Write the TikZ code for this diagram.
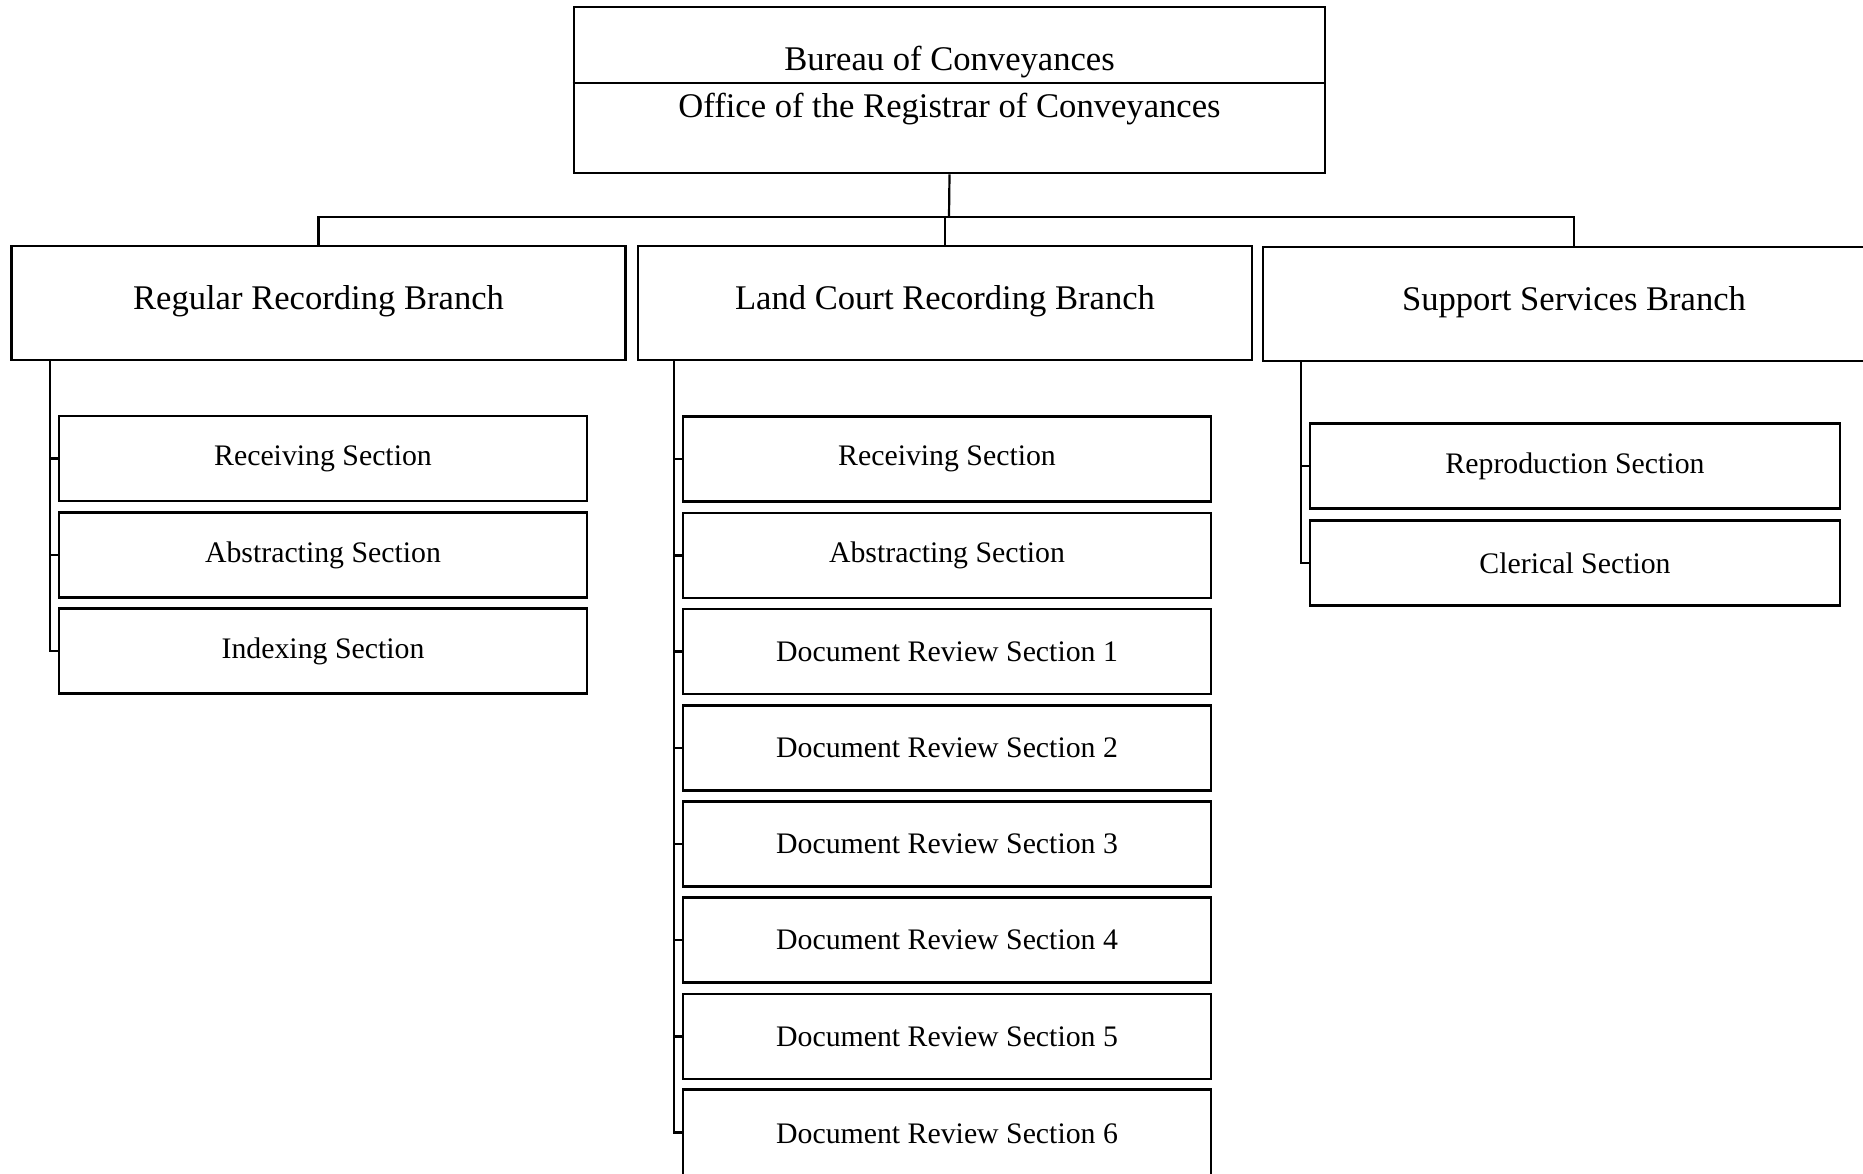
\documentclass[tikz,border=0pt]{standalone}
\usepackage{fontspec}
\setmainfont{Liberation Serif}
\begin{document}
\begin{tikzpicture}[x=0.5pt,y=-0.5pt,
  boxline/.style={draw=black, line width=1.3pt, rectangle, inner sep=0pt},
  topbox/.style={boxline, minimum width=375.5pt, minimum height=83pt},
  branch/.style={boxline, minimum width=307pt, minimum height=57pt, font=\fontsize{17.3pt}{20pt}\selectfont},
  sect/.style={boxline, minimum width=264pt, minimum height=42.5pt, font=\fontsize{14.9pt}{18pt}\selectfont},
  conn/.style={draw=black, line width=1.1pt},
  toptext/.style={inner sep=0pt, font=\fontsize{17.3pt}{20pt}\selectfont}
]
\useasboundingbox (0,0) rectangle (1863,1173);
\clip (0,0) rectangle (1863,1173);
\fill[white] (0,0) rectangle (1863,1173);

% top box
\node[topbox] (top) at (949.5,90) {};
\draw[line width=1.3pt] (top.west |- 0,83) -- (top.east |- 0,83);
\node[toptext] (t1) at (949.5,62.5) {Bureau of Conveyances};
\node[toptext] (t2) at (949.5,109.5) {Office of the Registrar of Conveyances};

% branches
\node[branch] (rrb) at (318.5,303) {\raisebox{5.3pt}{Regular Recording Branch}};
\node[branch] (lcb) at (945,303) {\raisebox{5.3pt}{Land Court Recording Branch}};
\node[branch, minimum width=311pt] (ssb) at (1574,304) {\raisebox{5.3pt}{Support Services Branch}};

\coordinate (bus) at (949,217);
\draw[conn] (top.south) -- (bus);
\draw[conn] (rrb.north) -- (rrb.north |- bus) -- (ssb.north |- bus) -- (ssb.north);
\draw[conn] (lcb.north) -- (lcb.north |- bus);

% Regular sections
\node[sect] (r1) at (323,458.5) {\raisebox{-1.8pt}{Receiving Section}};
\node[sect] (r2) at (323,555) {\raisebox{-1.8pt}{Abstracting Section}};
\node[sect] (r3) at (323,651) {\raisebox{-1.8pt}{Indexing Section}};
\coordinate (rs) at (50,360);
\draw[conn] (rs) |- (r3.west);
\foreach \n in {r1,r2} \draw[conn] (rs |- \n.west) -- (\n.west);

% Land court sections
\node[sect] (l1) at (947,459) {\raisebox{-1.8pt}{Receiving Section}};
\node[sect] (l2) at (947,555.5) {\raisebox{-1.8pt}{Abstracting Section}};
\node[sect] (l3) at (947,651.5) {\raisebox{-1.8pt}{Document Review Section 1}};
\node[sect] (l4) at (947,748) {\raisebox{-1.8pt}{Document Review Section 2}};
\node[sect] (l5) at (947,844) {\raisebox{-1.8pt}{Document Review Section 3}};
\node[sect] (l6) at (947,940) {\raisebox{-1.8pt}{Document Review Section 4}};
\node[sect] (l7) at (947,1036.5) {\raisebox{-1.8pt}{Document Review Section 5}};
\node[sect, minimum height=44pt] (l8) at (947,1133.5) {\raisebox{-1.8pt}{Document Review Section 6}};
\coordinate (ls) at (674,360);
\draw[conn] (ls) |- ([yshift=0.5pt]l8.west);
\foreach \n in {l1,l2,l3,l4,l5,l6,l7} \draw[conn] (ls |- \n.west) -- (\n.west);

% Support sections
\node[sect, minimum width=265pt] (s1) at (1575,466) {\raisebox{-1.8pt}{Reproduction Section}};
\node[sect, minimum width=265pt] (s2) at (1575,563) {\raisebox{-1.8pt}{Clerical Section}};
\coordinate (ss) at (1301,361);
\draw[conn] (ss) |- (s2.west);
\draw[conn] (ss |- s1.west) -- (s1.west);
\end{tikzpicture}
\end{document}
